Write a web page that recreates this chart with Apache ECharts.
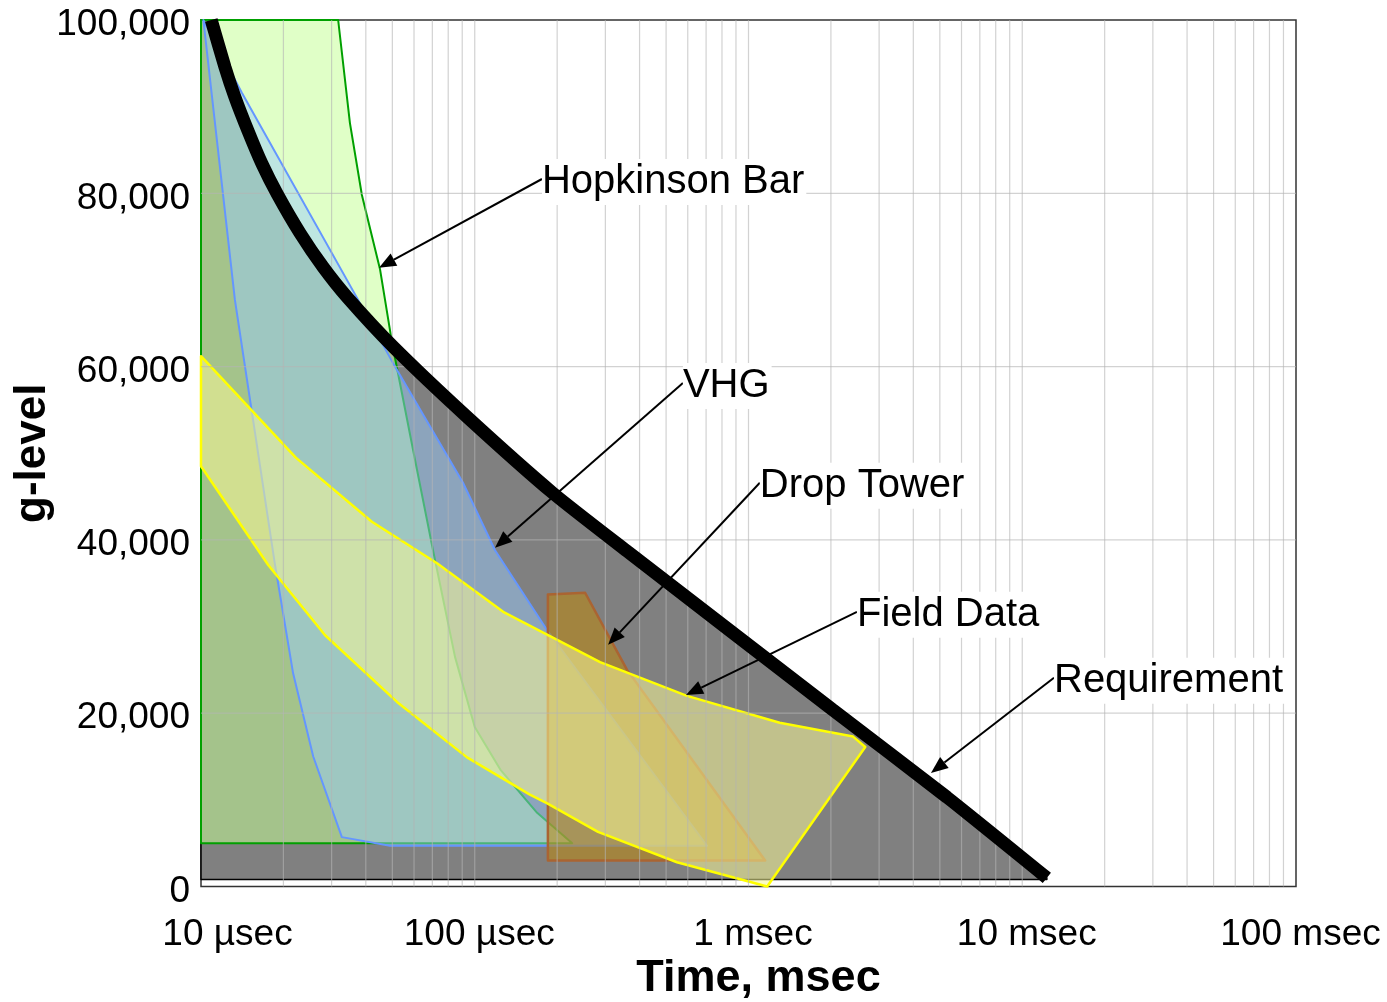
<!DOCTYPE html>
<html><head><meta charset="utf-8">
<script src="https://cdn.jsdelivr.net/npm/echarts@6/dist/echarts.min.js"></script>
<style>html,body{margin:0;padding:0;background:#fff}#c{width:1387px;height:1002px}</style>
</head><body><div id="c"></div>
<script>
// ---- axis ticks ----
const xTickValues = [0.01, 0.1, 1, 10, 100];
const xTickLabels = ['10 µsec', '100 µsec', '1 msec', '10 msec', '100 msec'];
const yTickValues = [0, 20000, 40000, 60000, 80000, 100000];
const xDecades = [0.01, 0.1, 1, 10];
const xMinorSteps = [1, 2, 3, 4, 5, 6, 7, 8, 9];

// ---- Requirement (thick black curve + grey area under it) ----
const reqT = [0.0109, 0.01225, 0.0133, 0.01485, 0.0167, 0.019, 0.023, 0.0279, 0.0342, 0.0503, 0.0937, 0.193, 0.36, 2.03, 5.31, 12.3];
const reqG = [100000, 94500, 91100, 87200, 83400, 79900, 75400, 71500, 68000, 62300, 54200, 45400, 38700, 20400, 10300, 1000];
const reqFloorG = 800;

// ---- Hopkinson Bar ----
const hopT = [0.01, 0.0317, 0.035, 0.0387, 0.0451, 0.0499, 0.0533, 0.0595, 0.0704, 0.0847, 0.1, 0.124, 0.169, 0.227, 0.01];
const hopG = [100000, 100000, 88100, 79800, 71200, 62700, 58100, 50400, 38800, 26500, 18400, 13500, 8500, 5000, 5000];

// ---- VHG ----
const vhgT = [0.0102, 0.0141, 0.0375, 0.0503, 0.0906, 0.1186, 0.1836, 0.7055, 0.049, 0.0327, 0.0257, 0.0217, 0.0186, 0.0133];
const vhgG = [100000, 91600, 67700, 60400, 46600, 38800, 29600, 4700, 4700, 5700, 15000, 24600, 37300, 67700];

// ---- Drop Tower ----
const dropT = [0.185, 0.253, 0.36, 1.15, 0.185];
const dropG = [33700, 33900, 25000, 3000, 3000];

// ---- Field Data ----
const fieldT = [0.01, 0.0222, 0.0421, 0.0728, 0.127, 0.287, 0.596, 1.30, 2.41, 2.67, 1.17, 0.548, 0.282, 0.184, 0.159, 0.0937, 0.052, 0.0284, 0.0176, 0.01];
const fieldG = [61200, 49500, 42100, 37300, 31700, 25900, 22000, 18900, 17300, 16100, 0, 2800, 6300, 9600, 10600, 14900, 21300, 29000, 37100, 48500];

// ---- Annotations ----
const annNames = ['Hopkinson Bar', 'VHG', 'Drop Tower', 'Field Data', 'Requirement'];
const annLabelT = [0.176, 0.576, 1.10, 2.49, 13.06];
const annLabelG = [81650, 58100, 46600, 31700, 24100];
const annTipT = [0.0447, 0.1186, 0.307, 0.591, 4.64];
const annTipG = [71400, 39100, 27900, 22100, 13100];

const FONT = '"Liberation Sans", Arial, Helvetica, sans-serif';

const xGridValues = [];
xDecades.forEach(d => xMinorSteps.forEach(k => { if (!(d === 0.01 && k === 1)) xGridValues.push(k * d); }));

function pairs(ts, gs) { return ts.map((t, i) => [t, gs[i]]); }

function polySeries(name, ts, gs, fill, stroke, lw) {
  return {
    type: 'custom', name: name, coordinateSystem: 'cartesian2d', z: 2, silent: true,
    data: pairs(ts, gs),
    renderItem: function (params, api) {
      if (params.dataIndex !== 0) return null;
      const pts = ts.map((t, i) => api.coord([t, gs[i]]));
      return { type: 'polygon', shape: { points: pts },
        style: { fill: fill, stroke: stroke, lineWidth: lw, lineJoin: 'round' } };
    }
  };
}

const reqPolyT = [0.01].concat(reqT, [reqT[reqT.length - 1], 0.01]);
const reqPolyG = [100000].concat(reqG, [reqFloorG, reqFloorG]);

const chart = echarts.init(document.getElementById('c'), null, { renderer: 'canvas' });
const option = {
  animation: false,
  backgroundColor: '#fff',
  grid: { left: 201, right: 91, top: 20, bottom: 115.5, containLabel: false, outerBoundsMode: 'none',
    show: true, borderColor: '#333', borderWidth: 1.5, backgroundColor: '#fff' },
  xAxis: {
    type: 'log', logBase: 10, min: 0.01, max: 100,
    axisLine: { show: false }, axisTick: { show: false }, splitLine: { show: false },
    axisLabel: {
      margin: 30, fontSize: 37, fontFamily: FONT, color: '#000',
      showMinLabel: true, showMaxLabel: true, hideOverlap: false,
      formatter: function (v) {
        const idx = Math.round(Math.log10(v)) + 2;
        const lab = xTickLabels[idx];
        return idx === 0 ? '{a|' + lab + '}' : '{b|' + lab + '}';
      },
      rich: {
        a: { fontSize: 37, fontFamily: FONT, color: '#000', padding: [0, 0, 0, 53] },
        b: { fontSize: 37, fontFamily: FONT, color: '#000', padding: [0, 0, 0, 9] }
      }
    },
    name: 'Time, msec', nameLocation: 'middle', nameGap: 70, nameMoveOverlap: false,
    nameTextStyle: { fontSize: 45, fontWeight: 'bold', fontFamily: FONT, color: '#000', padding: [0, 0, 0, 20] }
  },
  yAxis: {
    type: 'value', min: 0, max: 100000, interval: 20000,
    axisLine: { show: false }, axisTick: { show: false }, splitLine: { show: false },
    axisLabel: {
      margin: 11, fontSize: 37, fontFamily: FONT, color: '#000', verticalAlign: 'top', lineHeight: 10,
      formatter: function (v) { return v.toLocaleString('en-US'); }
    },
    name: 'g-level', nameLocation: 'middle', nameGap: 146, nameRotate: 90, nameMoveOverlap: false,
    nameTextStyle: { fontSize: 44, fontWeight: 'bold', fontFamily: FONT, color: '#000' }
  },
  series: [
    polySeries('Requirement area', reqPolyT, reqPolyG, '#808080', '#000', 1.5),
    polySeries('Hopkinson Bar', hopT, hopG, 'rgba(196,255,150,0.53)', '#00A000', 2),
    polySeries('VHG', vhgT, vhgG, 'rgba(153,203,253,0.48)', '#6496FF', 2),
    polySeries('Drop Tower', dropT, dropG, 'rgba(190,135,10,0.55)', '#AA6432', 2.5),
    polySeries('Field Data', fieldT, fieldG, 'rgba(245,245,150,0.55)', '#FFFF00', 2.5),
    {
      type: 'custom', name: 'xgrid', coordinateSystem: 'cartesian2d', z: 3, silent: true,
      data: xGridValues.map(v => [v, 0]),
      renderItem: function (params, api) {
        const p0 = api.coord([api.value(0), 0]);
        const p1 = api.coord([api.value(0), 100000]);
        return { type: 'line', shape: { x1: p0[0], y1: p0[1], x2: p1[0], y2: p1[1] },
          style: { stroke: 'rgba(180,180,180,0.6)', lineWidth: 1.2 } };
      }
    },
    {
      type: 'custom', name: 'ygrid', coordinateSystem: 'cartesian2d', z: 3, silent: true,
      data: yTickValues.slice(1, -1).map(v => [0.01, v]),
      renderItem: function (params, api) {
        const p0 = api.coord([0.01, api.value(1)]);
        const p1 = api.coord([100, api.value(1)]);
        return { type: 'line', shape: { x1: p0[0], y1: p0[1], x2: p1[0], y2: p1[1] },
          style: { stroke: 'rgba(180,180,180,0.6)', lineWidth: 1.2 } };
      }
    },
    {
      type: 'line', name: 'Requirement', z: 5, silent: true,
      data: pairs(reqT, reqG), showSymbol: false, smooth: 0.2,
      lineStyle: { color: '#000', width: 13, cap: 'butt' }
    },
    {
      type: 'custom', name: 'annotations', coordinateSystem: 'cartesian2d', z: 6, silent: true,
      data: annNames.map((n, i) => [annLabelT[i], annLabelG[i], annTipT[i], annTipG[i]]),
      renderItem: function (params, api) {
        const i = params.dataIndex;
        const p0 = api.coord([api.value(0), api.value(1)]);
        const p1 = api.coord([api.value(2), api.value(3)]);
        const dx = p1[0] - p0[0], dy = p1[1] - p0[1];
        const L = Math.hypot(dx, dy), ux = dx / L, uy = dy / L;
        const hl = 17, hw = 7;
        const b = [p1[0] - ux * hl, p1[1] - uy * hl];
        const l = [b[0] - uy * hw, b[1] + ux * hw], r = [b[0] + uy * hw, b[1] - ux * hw];
        return { type: 'group', children: [
          { type: 'line', shape: { x1: p0[0], y1: p0[1], x2: b[0], y2: b[1] }, style: { stroke: '#000', lineWidth: 2 } },
          { type: 'polygon', shape: { points: [p1, l, r] }, style: { fill: '#000' } },
          { type: 'text', x: p0[0], y: p0[1] + 3, style: { text: annNames[i], fontSize: 40, fontFamily: FONT, fill: '#000',
              align: 'left', verticalAlign: 'middle', backgroundColor: '#fff', padding: [4, 2, 2, 0] } }
        ] };
      }
    }
  ]
};
chart.setOption(option);
</script>
</body></html>
